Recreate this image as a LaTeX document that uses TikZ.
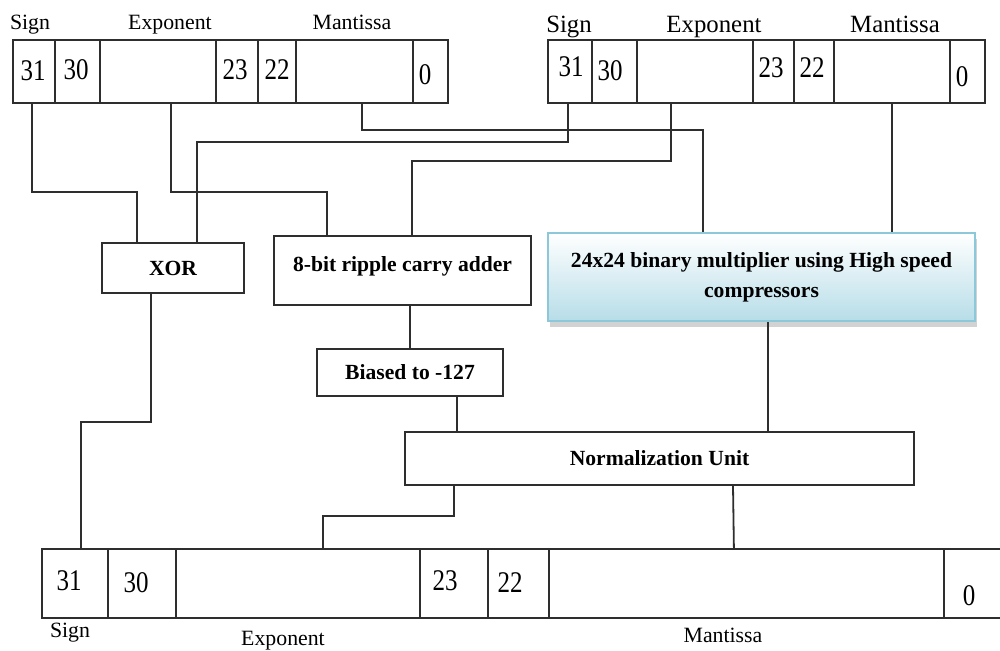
\documentclass[tikz,border=0pt]{standalone}
\usepackage{graphicx}
\usepackage{fontspec}
\setmainfont{Liberation Serif}
\usetikzlibrary{shadows}
\definecolor{linec}{gray}{0.18}
\definecolor{multb}{RGB}{140,200,218}
\definecolor{multf}{RGB}{183,221,232}
\newcommand\regnum[1]{\scalebox{1}[1.2]{#1}}
\begin{document}
\begin{tikzpicture}[x=0.5pt,y=-0.5pt,
  wire/.style={draw=linec,line width=0.9pt},
  cell/.style={draw=linec,line width=0.9pt,anchor=north west,inner sep=0pt,minimum height=31.5pt},
  bcell/.style={cell,minimum height=34.5pt},
  blk/.style={draw=linec,line width=0.9pt,fill=white,inner sep=0pt,font=\fontsize{10.8}{15}\selectfont\bfseries},
  num/.style={inner sep=0pt,font=\fontsize{12.5}{14}\selectfont},
  lab/.style={inner sep=0pt,anchor=base,font=\fontsize{10.9}{13}\selectfont},
  rlab/.style={lab,font=\fontsize{12.4}{14}\selectfont},
]
\useasboundingbox (0,0) rectangle (1000,650);

% ---------- top-left register ----------
\node[cell,minimum width=21pt]   (lsign) at (12,39) {};
\node[cell,minimum width=22.5pt] (lc30)  at (54,39) {};
\node[cell,minimum width=58pt]   (lexp)  at (99,39) {};
\node[cell,minimum width=21pt]   (lc23)  at (215,39) {};
\node[cell,minimum width=19pt]   (lc22)  at (257,39) {};
\node[cell,minimum width=58.5pt] (lman)  at (295,39) {};
\node[cell,minimum width=17.5pt] (lc0)   at (412,39) {};
\node[num] (ln31) at (33,71) {\regnum{31}};
\node[num] (ln30) at (76,70) {\regnum{30}};
\node[num] (ln23) at (235,70) {\regnum{23}};
\node[num] (ln22) at (277,70) {\regnum{22}};
\node[num] (ln0)  at (425,75) {\regnum{0}};
\node[lab] (lls) at (30,29)  {Sign};
\node[lab] (lle) at (170,29) {Exponent};
\node[lab] (llm) at (352,29) {Mantissa};

% ---------- top-right register ----------
\node[cell,minimum width=22pt]   (rsign) at (547,39) {};
\node[cell,minimum width=22.5pt] (rc30)  at (591,39) {};
\node[cell,minimum width=58pt]   (rexp)  at (636,39) {};
\node[cell,minimum width=20.5pt] (rc23)  at (752,39) {};
\node[cell,minimum width=20pt]   (rc22)  at (793,39) {};
\node[cell,minimum width=58pt]   (rman)  at (833,39) {};
\node[cell,minimum width=17.5pt] (rc0)   at (949,39) {};
\node[num] (rn31) at (571,67) {\regnum{31}};
\node[num] (rn30) at (610,71) {\regnum{30}};
\node[num] (rn23) at (771,68) {\regnum{23}};
\node[num] (rn22) at (812,68) {\regnum{22}};
\node[num] (rn0)  at (962,77) {\regnum{0}};
\node[rlab] (rls) at (569,32) {Sign};
\node[rlab] (rle) at (714,32) {Exponent};
\node[rlab] (rlm) at (895,32) {Mantissa};

% ---------- blocks ----------
\node[blk,minimum width=71pt,minimum height=25pt] (xor) at (173,268) {XOR};
\node[blk,minimum width=128.5pt,minimum height=34.5pt] (adder) at (402.5,270.5) {\raisebox{7pt}{8-bit ripple carry adder}};
\node[blk,draw=multb,line width=1pt,top color=white,bottom color=multf,
      drop shadow={shadow xshift=1pt,shadow yshift=-3pt,fill=black!35},
      minimum width=213.5pt,minimum height=44pt,align=center] (mult) at (761.5,277)
      {24x24 binary multiplier using High speed\\compressors};
\node[blk,minimum width=93pt,minimum height=23.5pt] (biased) at (410,372.5) {Biased to -127};
\node[blk,minimum width=254.5pt,minimum height=26.5pt] (norm) at (659.5,458.5) {Normalization Unit};

% ---------- bottom register ----------
\node[bcell,minimum width=33pt]    (bsign) at (41,548) {};
\node[bcell,minimum width=34pt]    (bc30)  at (107,548) {};
\node[bcell,minimum width=122pt]   (bexp)  at (175,548) {};
\node[bcell,minimum width=34pt]    (bc23)  at (419,548) {};
\node[bcell,minimum width=30.5pt]  (bc22)  at (487,548) {};
\node[bcell,minimum width=197.5pt] (bman)  at (548,548) {};
\node[bcell,minimum width=35pt]    (bc0)   at (943,548) {};
\node[num] (bn31) at (69,581)  {\regnum{31}};
\node[num] (bn30) at (136,583) {\regnum{30}};
\node[num] (bn23) at (445,581) {\regnum{23}};
\node[num] (bn22) at (510,583) {\regnum{22}};
\node[num] (bn0)  at (969,596) {\regnum{0}};
\node[lab] (bls) at (70,637)  {Sign};
\node[lab] (ble) at (283,645) {Exponent};
\node[lab] (blm) at (723,642) {Mantissa};

% ---------- connectors ----------
\draw[wire] ([xshift=-1pt]lsign.south) -- ++(0,88) -| ([xshift=-18pt]xor.north);
\draw[wire] ([xshift=6.5pt]lexp.south) -- ++(0,88) -| ([xshift=-37.75pt]adder.north);
\draw[wire] ([xshift=3.75pt]lman.south) -- ++(0,26) -| ([xshift=-29.25pt]mult.north);
\draw[wire] ([xshift=-1pt]rsign.south) -- ++(0,38) -| ([xshift=12pt]xor.north);
\draw[wire] ([xshift=-12pt]rexp.south) -- ++(0,57) -| ([xshift=4.75pt]adder.north);
\draw[wire] (rman.south) -- (rman.south |- mult.north);
\draw[wire] ([xshift=-11pt]xor.south) -- ++(0,128) -| ([xshift=3pt]bsign.north);
\draw[wire] (biased.north |- adder.south) -- (biased.north);
\draw[wire] ([xshift=23.5pt]biased.south) -- ([xshift=-101.25pt]norm.north);
\draw[wire] ([xshift=3.25pt]mult.south) -- ([xshift=54.25pt]norm.north);
\draw[wire] ([xshift=-102.75pt]norm.south) -- ++(0,30) -| ([xshift=12.5pt]bexp.north);
\draw[wire] ([xshift=36.75pt]norm.south) -- ([xshift=-6.25pt]bman.north);
\end{tikzpicture}
\end{document}
